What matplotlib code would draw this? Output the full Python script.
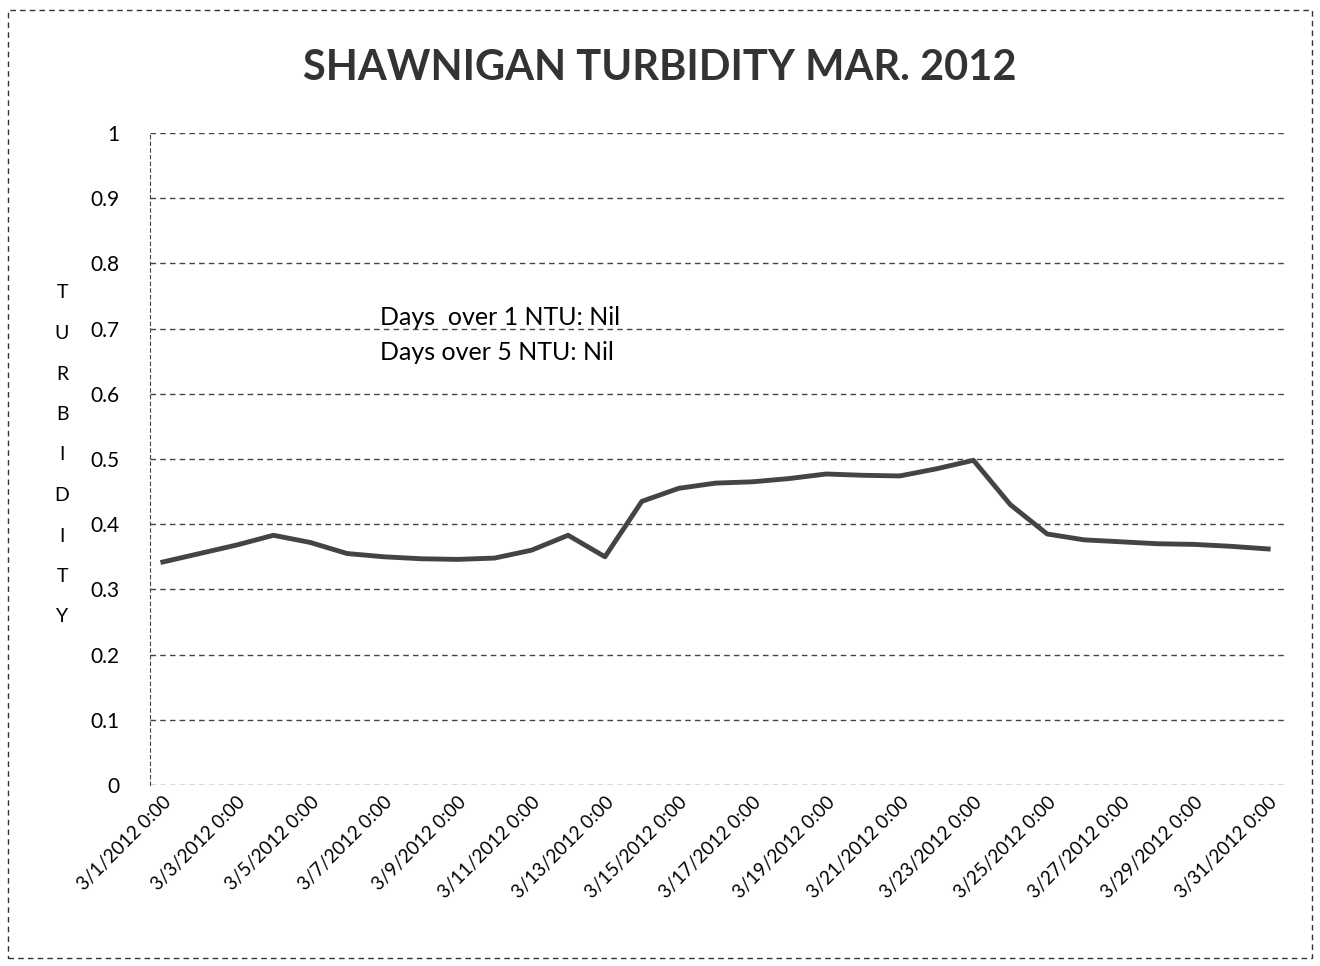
import matplotlib.pyplot as plt
from matplotlib.patches import Rectangle

# daily turbidity readings, March 2012 (day of month, NTU)
days = list(range(1, 32))
turbidity = [0.342, 0.355, 0.368, 0.383, 0.372, 0.355, 0.350, 0.347, 0.346, 0.348,
             0.360, 0.383, 0.350, 0.435, 0.455, 0.463, 0.465, 0.470, 0.477, 0.475,
             0.474, 0.485, 0.498, 0.430, 0.385, 0.376, 0.373, 0.370, 0.369, 0.366,
             0.362]

tick_days = list(range(1, 32, 2))
tick_labels = [f"3/{d}/2012 0:00" for d in tick_days]
y_ticks = [0, 0.1, 0.2, 0.3, 0.4, 0.5, 0.6, 0.7, 0.8, 0.9, 1]
y_labels = ["0", "0.1", "0.2", "0.3", "0.4", "0.5", "0.6", "0.7", "0.8", "0.9", "1"]
notes = ["Days  over 1 NTU: Nil", "Days over 5 NTU: Nil"]

plt.rcParams["font.family"] = ["Lato", "DejaVu Sans"]

fig = plt.figure(figsize=(13.2, 9.66), dpi=100)
ax = fig.add_axes([0.1136, 0.1874, 0.86, 0.6749])

ax.plot(days, turbidity, color="#444444", linewidth=3.5)

ax.set_xlim(0.65, 31.46)
ax.set_ylim(0, 1)
ax.set_yticks(y_ticks)
ax.set_yticklabels(y_labels, fontsize=15)
ax.set_xticks(tick_days)
ax.set_xticklabels(tick_labels, rotation=45, ha="right", rotation_mode="anchor",
                   fontsize=13.5)
ax.tick_params(axis="both", length=0)
ax.tick_params(axis="y", pad=22)
ax.tick_params(axis="x", pad=6)

ax.grid(axis="y", color="#444444", linestyle=(0, (4, 3)), linewidth=1)
for side in ["top", "right", "bottom"]:
    ax.spines[side].set_visible(False)
ax.spines["left"].set_linestyle((0, (3, 3)))
ax.spines["left"].set_color("#444444")

ax.text(0.2026, 0.705, notes[0], transform=ax.transAxes, fontsize=18)
ax.text(0.2026, 0.652, notes[1], transform=ax.transAxes, fontsize=18)

fig.text(0.5, 0.93, "SHAWNIGAN TURBIDITY MAR. 2012", ha="center", va="center",
         fontsize=30, fontweight="bold", color="#333333")

# stacked letters for the vertical axis title
for i, ch in enumerate("TURBIDITY"):
    fig.text(0.047, 1 - (293 + i * 40.5) / 966, ch, ha="center", va="center",
             fontsize=14)

fig.patches.append(Rectangle((0.006, 0.008), 0.988, 0.982, transform=fig.transFigure,
                             fill=False, edgecolor="#333333", linestyle=(0, (4, 3)),
                             linewidth=1))

plt.savefig("out.png", dpi=100)
